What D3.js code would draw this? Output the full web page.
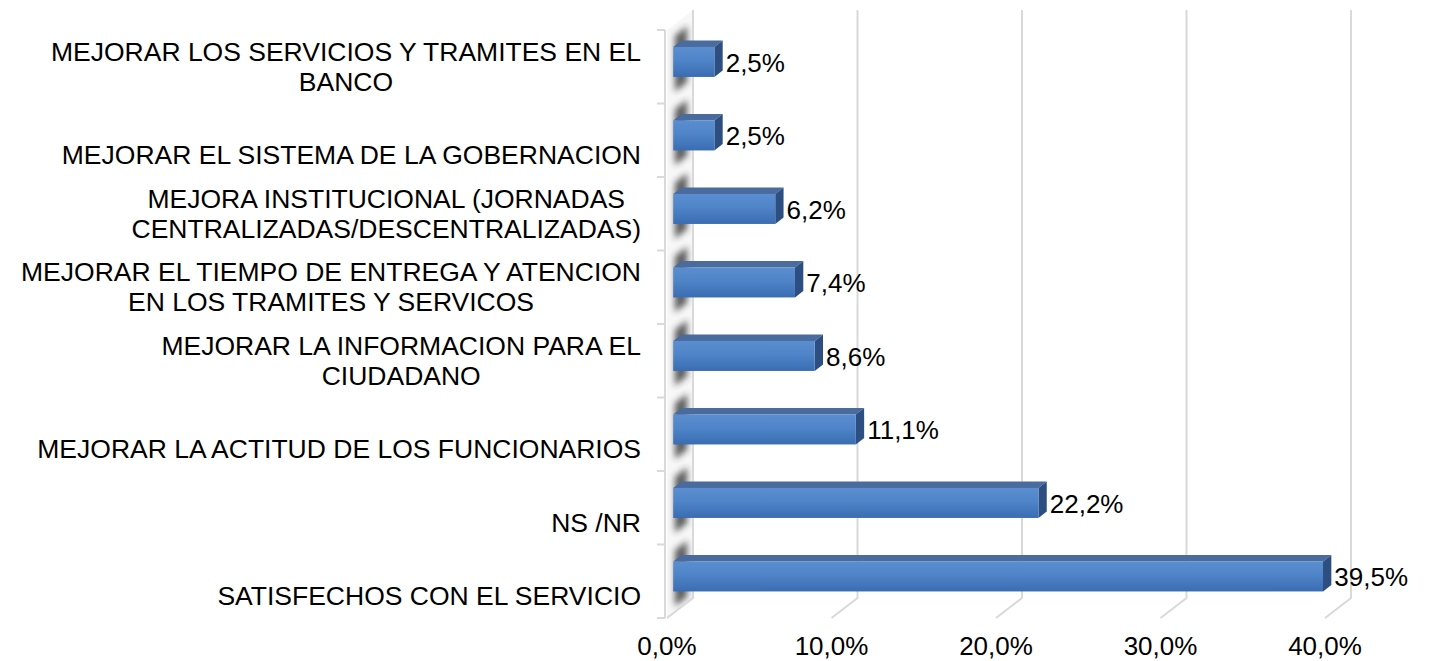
<!DOCTYPE html>
<html>
<head>
<meta charset="utf-8">
<script src="https://cdn.jsdelivr.net/npm/d3@7"></script>
<style>
  html, body { margin: 0; padding: 0; background: #fff; }
  svg { display: block; }
  text { font-family: "Liberation Sans", Arial, sans-serif; fill: #000; }
</style>
</head>
<body>
<svg id="chart" width="1429" height="661"></svg>
<script>
// Categories, top to bottom ("\n" marks a line break in the label)
const categories = [
  "MEJORAR LOS SERVICIOS Y TRAMITES EN EL\nBANCO",
  "MEJORAR EL SISTEMA DE LA GOBERNACION",
  "MEJORA INSTITUCIONAL (JORNADAS\nCENTRALIZADAS/DESCENTRALIZADAS)",
  "MEJORAR EL TIEMPO DE ENTREGA Y ATENCION\nEN LOS TRAMITES Y SERVICOS",
  "MEJORAR LA INFORMACION PARA EL\nCIUDADANO",
  "MEJORAR LA ACTITUD DE LOS FUNCIONARIOS",
  "NS /NR",
  "SATISFECHOS CON EL SERVICIO"
];
// Percentages
const values = [2.5, 2.5, 6.2, 7.4, 8.6, 11.1, 22.2, 39.5];
// Axis ticks
const ticks = [0, 10, 20, 30, 40];

const fmt = v => v.toFixed(1).replace(".", ",") + "%";

const svg = d3.select("#chart");
const FONT = 26;
const CAT_FONT = 26.5;

// Front plane of the 3-D box and its depth vector
const x = d3.scaleLinear().domain([0, 40]).range([667, 1325]);
const y = d3.scaleBand().domain(categories).range([30, 618]).paddingInner(0).paddingOuter(0);
const DX = 26, DY = -20;               // full depth offset
const D1 = 0.24, D2 = 0.56;             // bar front / back depth
const BAR_H = 30;

const P = (xs, ys, d) => [xs + DX * d, ys + DY * d];
const poly = pts => "M" + pts.map(p => p.join(",")).join("L") + "Z";

const defs = svg.append("defs");
const grad = defs.append("linearGradient").attr("id", "barFront")
  .attr("x1", 0).attr("y1", 0).attr("x2", 0).attr("y2", 1);
grad.append("stop").attr("offset", "0%").attr("stop-color", "#5a8ed0");
grad.append("stop").attr("offset", "45%").attr("stop-color", "#4f84c8");
grad.append("stop").attr("offset", "100%").attr("stop-color", "#3a6cb2");

const blur = defs.append("filter").attr("id", "soft")
  .attr("x", "-50%").attr("y", "-50%").attr("width", "200%").attr("height", "200%");
blur.append("feGaussianBlur").attr("stdDeviation", 3);

const yTop = y.range()[0], yBot = y.range()[1];
const x0 = x(0);

// Side wall (left)
const wallPts = [P(x0, yTop, 0), P(x0, yTop, 1), P(x0, yBot, 1), P(x0, yBot, 0)];
defs.append("clipPath").attr("id", "wallClip")
  .append("path").attr("d", poly(wallPts));

const wallG = svg.append("g").attr("clip-path", "url(#wallClip)");
wallG.append("path").attr("d", poly(wallPts)).attr("fill", "#f7f7f7");
wallG.selectAll("path.shade").data(categories).join("path")
  .attr("class", "shade")
  .attr("d", c => {
    const cy = y(c) + y.bandwidth() / 2;
    return poly([P(x0 + 4, cy - 28, 0.15), P(x0 + 4, cy - 28, 0.62),
                 P(x0 + 4, cy + 28, 0.62), P(x0 + 4, cy + 28, 0.15)]);
  })
  .attr("fill", "#2a2a2a").attr("opacity", 0.75).attr("filter", "url(#soft)");

// Gridlines on the back wall, running down and forward across the floor
const grid = svg.append("g").attr("stroke", "#d9d9d9").attr("stroke-width", 2).attr("fill", "none");
grid.selectAll("path").data(ticks).join("path")
  .attr("d", t => {
    const a = P(x(t), yTop, 1), b = P(x(t), yBot, 1), c = P(x(t), yBot, 0);
    return "M" + a + "L" + b + "L" + c;
  });

// Front edge of the wall with category tick marks
const axisG = svg.append("g").attr("stroke", "#d9d9d9").attr("stroke-width", 2);
axisG.append("line").attr("x1", x0 - 2).attr("x2", x0 - 2).attr("y1", yTop).attr("y2", yBot);
const bounds = categories.map(c => y(c)).concat([yBot]);
axisG.selectAll("line.tk").data(bounds).join("line").attr("class", "tk")
  .attr("x1", x0 - 10).attr("x2", x0 - 2).attr("y1", d => d).attr("y2", d => d);

// Bars
const bars = svg.append("g").selectAll("g").data(categories).join("g");
bars.each(function (c, i) {
  const g = d3.select(this);
  const cy = y(c) + y.bandwidth() / 2;
  const t = cy - BAR_H / 2, b = cy + BAR_H / 2;
  const xl = x(0), xr = x(values[i]);
  // top face
  g.append("path").attr("d", poly([P(xl, t, D1), P(xr, t, D1), P(xr, t, D2), P(xl, t, D2)]))
    .attr("fill", "#4a6b9e");
  // right face
  g.append("path").attr("d", poly([P(xr, t, D1), P(xr, t, D2), P(xr, b, D2), P(xr, b, D1)]))
    .attr("fill", "#2d4e80");
  // front face
  const f0 = P(xl, t, D1), f1 = P(xr, b, D1);
  g.append("rect").attr("x", f0[0]).attr("y", f0[1])
    .attr("width", f1[0] - f0[0]).attr("height", f1[1] - f0[1])
    .attr("fill", "url(#barFront)");
  // value label
  const lp = P(xr, cy, D2);
  g.append("text").attr("x", lp[0] + 3).attr("y", P(xr, cy, D1)[1] + 1)
    .attr("dominant-baseline", "central")
    .attr("font-size", FONT)
    .text(fmt(values[i]));
});

// Category labels: lines centred on each other, block right-aligned
const labelRight = 641, LINE = 30;
const labels = svg.append("g");
categories.forEach(c => {
  const lines = c.split("\n");
  const cy = y(c) + y.bandwidth() / 2;
  const g = labels.append("g");
  const ts = lines.map((ln, k) => {
    const ly = lines.length === 1 ? cy + 15 : cy + (k - (lines.length - 1) / 2) * LINE;
    return g.append("text").attr("y", ly).attr("dominant-baseline", "central")
      .attr("text-anchor", "middle").attr("font-size", CAT_FONT).text(ln);
  });
  const w = d3.max(ts, t => t.node().getComputedTextLength());
  ts.forEach(t => t.attr("x", labelRight - w / 2));
});

// Value axis labels along the front of the floor
svg.append("g").selectAll("text").data(ticks).join("text")
  .attr("x", t => x(t)).attr("y", 655)
  .attr("text-anchor", "middle")
  .attr("font-size", FONT)
  .text(t => fmt(t));
</script>
</body>
</html>
